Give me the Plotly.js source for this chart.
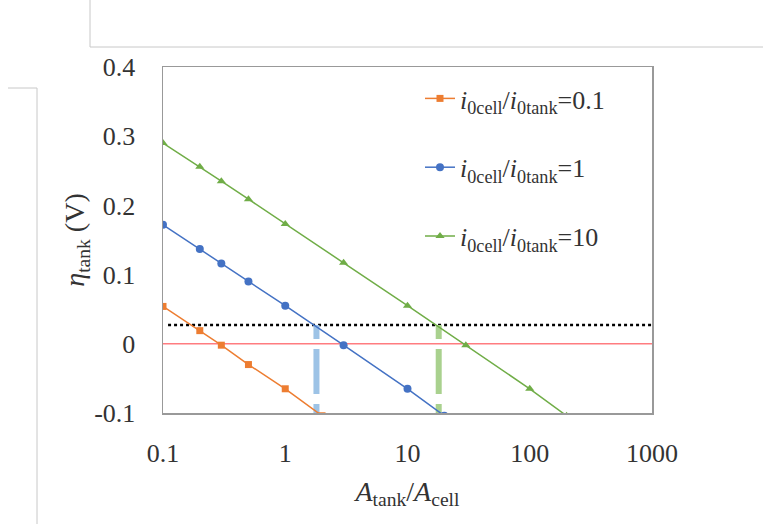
<!DOCTYPE html>
<html>
<head>
<meta charset="utf-8">
<script src="https://cdn.plot.ly/plotly-3.0.1.min.js"></script>
<style>html,body{margin:0;padding:0;background:#fff}#chart{width:763px;height:524px}</style>
</head>
<body>
<div id="chart"></div>
<script>
// ---- data ----
const seriesNames = [
  '<i>i</i><sub>0cell</sub>/<i>i</i><sub>0tank</sub>=0.1',
  '<i>i</i><sub>0cell</sub>/<i>i</i><sub>0tank</sub>=1',
  '<i>i</i><sub>0cell</sub>/<i>i</i><sub>0tank</sub>=10'
];
const xOrange = [0.1, 0.2, 0.3, 0.5, 1, 2];
const yOrange = [0.054, 0.019, -0.002, -0.030, -0.065, -0.104];
const xBlue = [0.1, 0.2, 0.3, 0.5, 1, 3, 10, 20];
const yBlue = [0.172, 0.137, 0.116, 0.090, 0.055, -0.002, -0.065, -0.104];
const xGreen = [0.1, 0.2, 0.3, 0.5, 1, 3, 10, 30, 100, 200];
const yGreen = [0.290, 0.256, 0.235, 0.209, 0.173, 0.117, 0.055, -0.002, -0.065, -0.104];
const xRange = [0.1, 1000];
const xTicks = [0.1, 1, 10, 100, 1000];
const xTickLabels = ['0.1', '1', '10', '100', '1000'];
const yTicks = [-0.1, 0, 0.1, 0.2, 0.3, 0.4];
const yTickLabels = ['-0.1', '0', '0.1', '0.2', '0.3', '0.4'];
const zeroLineX = [0.1, 1000];
const zeroLineY = [0, 0];
const dottedX = [0.11, 1150];
const dottedY = [0.027, 0.027];
const blueDropX = [1.8, 1.8];
const greenDropX = [18, 18];
const dropY = [0.027, -0.1];

const serif = '"Liberation Serif", "DejaVu Serif", serif';
const txt = '#333333';
const fs = 26;
const tfs = 28;

const traces = [
  {x: zeroLineX, y: zeroLineY, mode: 'lines', line: {color: '#FF7C80', width: 1.5}, showlegend: false, hoverinfo: 'skip'},
  {x: dottedX, y: dottedY, mode: 'lines', line: {color: '#000000', width: 2.5, dash: 'dot'}, showlegend: false, hoverinfo: 'skip', cliponaxis: false},
  {x: blueDropX, y: dropY, mode: 'lines', line: {color: '#9DC3E6', width: 6, dash: '14px,10px,45px,10px'}, showlegend: false, hoverinfo: 'skip'},
  {x: greenDropX, y: dropY, mode: 'lines', line: {color: '#A9D18E', width: 6, dash: '14px,10px,45px,10px'}, showlegend: false, hoverinfo: 'skip'},
  {x: xOrange, y: yOrange, name: seriesNames[0], legendgroup: 'a', mode: 'lines+markers',
   line: {color: '#ED7D31', width: 1.5}, marker: {symbol: 'square', size: 7, color: '#ED7D31'}},
  {x: xBlue, y: yBlue, name: seriesNames[1], legendgroup: 'b', mode: 'lines+markers',
   line: {color: '#4472C4', width: 1.5}, marker: {symbol: 'circle', size: 8, color: '#4472C4'}},
  {x: xGreen, y: yGreen, name: seriesNames[2], legendgroup: 'c', mode: 'lines+markers',
   line: {color: '#70AD47', width: 1.5}, marker: {symbol: 'triangle-up', size: 8, color: '#70AD47'}}
];

const deco = {type: 'line', xref: 'paper', yref: 'paper', line: {color: '#C8C8C8', width: 1}};
const px = v => (v - 163) / 489;
const py = v => 1 - (v - 67) / 346;

const layout = {
  width: 763, height: 524,
  margin: {l: 163, r: 111, t: 67, b: 111},
  paper_bgcolor: '#ffffff', plot_bgcolor: '#ffffff',
  font: {family: serif, size: fs, color: txt},
  showlegend: true,
  legend: {x: px(420), y: py(75), xanchor: 'left', yanchor: 'top', bgcolor: 'rgba(0,0,0,0)',
           tracegroupgap: 32, font: {family: serif, size: fs, color: txt}, traceorder: 'grouped'},
  xaxis: {type: 'log', range: [Math.log10(xRange[0]), Math.log10(xRange[1])],
          tickvals: xTicks, ticktext: xTickLabels, ticks: '', showgrid: false, zeroline: false,
          showline: true, mirror: true, linecolor: '#999999', linewidth: 1.5,
          tickfont: {family: serif, size: fs, color: txt}, ticklabelstandoff: 16,
          title: {text: '<i>A</i><sub>tank</sub>/<i>A</i><sub>cell</sub>', font: {family: serif, size: tfs, color: txt}, standoff: 14}},
  yaxis: {range: [-0.1, 0.4], tickvals: yTicks, ticktext: yTickLabels, ticks: '', showgrid: false, zeroline: false,
          showline: true, mirror: true, linecolor: '#999999', linewidth: 1.5,
          tickfont: {family: serif, size: fs, color: txt}, ticklabelstandoff: 21,
          title: {text: '<i>η</i><sub>tank</sub> (V)', font: {family: serif, size: tfs, color: txt}, standoff: 1}},
  shapes: [
    Object.assign({}, deco, {x0: px(90), x1: px(90), y0: py(0), y1: py(47)}),
    Object.assign({}, deco, {x0: px(90), x1: px(763), y0: py(47), y1: py(47)}),
    Object.assign({}, deco, {x0: px(8), x1: px(37), y0: py(88), y1: py(88)}),
    Object.assign({}, deco, {x0: px(37), x1: px(37), y0: py(88), y1: py(524)})
  ]
};

Plotly.newPlot('chart', traces, layout, {displayModeBar: false, staticPlot: true});
</script>
</body>
</html>
